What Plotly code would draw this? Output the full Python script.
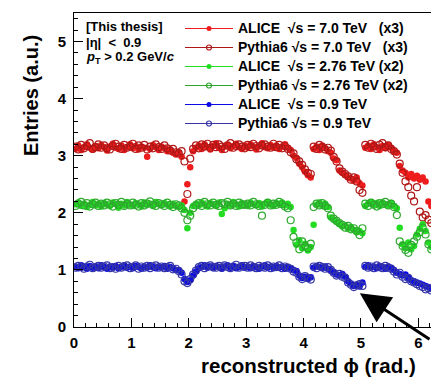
import numpy as np
import plotly.graph_objects as go

# bin centres of reconstructed phi (0.05 rad bins)
phi = np.round(np.arange(0.025, 6.23, 0.05), 3)

alice_7 = [3.12, 3.18, 3.10, 3.15, 3.20, 3.14, 3.11, 3.17, 3.13, 3.19,
           3.15, 3.09, 3.16, 3.21, 3.14, 3.12, 3.18, 3.10, 3.15, 3.20,
           3.13, 3.17, 3.11, 3.16, 3.14, 2.98, 3.12, 3.19, 3.15, 3.10,
           3.16, 3.13, 3.08, 3.11, 3.05, 3.02, 3.06, 2.98,
           2.20, 2.50, 2.80, 3.08,
           3.14, 3.18, 3.12, 3.20, 3.15, 3.11, 3.17, 3.22,
           3.14, 3.10, 3.16, 3.19, 3.13, 3.17, 3.21, 3.15, 3.12, 3.18,
           3.14, 3.20, 3.16, 3.11, 3.17, 3.22, 3.15, 3.13, 3.19, 3.14,
           3.18, 3.12, 3.16, 3.20, 3.14, 3.10,
           3.00, 2.96, 2.86, 2.80, 2.72, 2.66, 2.62,
           3.12, 3.16, 3.10, 3.18, 3.13, 3.08, 3.05, 2.95, 2.92,
           2.74, 2.70, 2.66, 2.62, 2.60, 2.56, 2.62, 2.52, 2.48,
           3.14, 3.18, 3.12, 3.20, 3.15, 3.10, 3.17, 3.13, 3.19, 3.14, 3.08, 3.05,
           2.82, 2.74, 2.70, 2.62, 2.68, 2.60, 2.65, 2.58, 2.62, 2.55, 2.20, 2.12]

pythia_7 = [3.16, 3.11, 3.19, 3.13, 3.17, 3.22, 3.12, 3.15, 3.20, 3.14,
            3.18, 3.13, 3.11, 3.17, 3.21, 3.16, 3.12, 3.19, 3.14, 3.16,
            3.21, 3.12, 3.18, 3.14, 3.19, 3.11, 3.16, 3.13, 3.20, 3.15,
            3.12, 3.18, 3.13, 3.09, 3.12, 3.06, 3.04, 3.08,
            2.90, 2.33, 2.95, 3.12,
            3.18, 3.13, 3.20, 3.16, 3.21, 3.14, 3.19, 3.15,
            3.20, 3.16, 3.12, 3.18, 3.22, 3.14, 3.17, 3.20, 3.16, 3.13,
            3.19, 3.15, 3.21, 3.17, 3.13, 3.18, 3.20, 3.16, 3.14, 3.21,
            3.15, 3.19, 3.13, 3.17, 3.12, 3.06,
            3.04, 2.94, 2.90, 2.84, 2.76, 2.70, 2.68,
            3.16, 3.12, 3.19, 3.15, 3.11, 3.14, 3.09, 2.98, 2.90,
            2.78, 2.72, 2.68, 2.64, 2.58, 2.62, 2.55, 2.40, 2.35,
            3.19, 3.14, 3.21, 3.16, 3.12, 3.19, 3.22, 3.15, 3.18, 3.12, 3.08, 3.02,
            2.86, 2.70, 2.55, 2.45, 2.30, 2.20, 2.45, 2.02, 1.92, 1.96, 1.88, 1.82]

alice_276 = [2.15, 2.18, 2.12, 2.16, 2.10, 2.14, 2.19, 2.13, 2.16, 2.11,
             2.17, 2.14, 2.12, 2.18, 2.15, 2.09, 2.16, 2.13, 2.19, 2.14,
             2.12, 2.17, 2.15, 2.11, 2.18, 2.14, 2.16, 2.12, 2.19, 2.15,
             2.13, 2.17, 2.14, 2.11, 2.16, 2.12, 2.10, 2.13,
             2.05, 1.73, 2.00, 2.12,
             2.16, 2.13, 2.18, 2.14, 2.11, 2.17, 2.15, 2.12,
             2.18, 1.98, 2.08, 2.16, 2.13, 2.19, 2.15, 2.11, 2.17, 2.14,
             2.12, 2.18, 2.15, 2.13, 2.17, 2.11, 2.16, 2.19, 2.14, 2.12,
             2.17, 2.15, 2.18, 2.13, 2.16, 2.10,
             1.70, 1.44, 1.52, 1.38, 1.46, 1.34, 1.40,
             1.79, 2.14, 2.18, 2.12, 2.16, 2.10,
             1.92, 1.88, 1.84, 1.80, 1.76, 1.78, 1.72, 1.75, 1.70, 1.66, 1.68, 1.64,
             2.12, 2.16, 2.19, 2.14, 2.17, 2.12, 2.18, 2.15, 2.13, 2.17, 2.12, 2.08,
             1.74, 1.45, 1.38, 1.48, 1.36, 1.42, 1.62, 1.72, 1.80, 1.68, 1.48, 1.40]

pythia_276 = [2.12, 2.16, 2.19, 2.13, 2.17, 2.11, 2.15, 2.18, 2.12, 2.16,
              2.13, 2.18, 2.15, 2.11, 2.17, 2.14, 2.19, 2.12, 2.16, 2.13,
              2.18, 2.14, 2.11, 2.17, 2.13, 2.16, 2.20, 2.14, 2.12, 2.17,
              2.15, 2.12, 2.18, 2.14, 2.10, 2.15, 2.13, 2.08,
              2.00, 1.87, 1.95, 2.08,
              2.13, 2.17, 2.12, 2.19, 2.15, 2.13, 2.18, 2.14,
              2.12, 2.17, 2.15, 2.19, 2.13, 2.16, 2.12, 2.18, 2.14, 2.14,
              2.16, 2.13, 2.19, 2.15, 2.12, 1.95, 2.14, 2.18, 2.13, 2.16,
              2.14, 2.19, 2.15, 2.11, 2.08, 1.87,
              1.58, 1.48, 1.36, 1.50, 1.42, 1.38, 1.46,
              2.10, 2.16, 2.13, 2.17, 2.12, 2.08,
              1.95, 1.90, 1.86, 1.82, 1.79, 1.74, 1.77, 1.71, 1.73, 1.68, 1.61, 1.73,
              2.16, 2.12, 2.18, 2.14, 2.11, 2.17, 2.15, 2.19, 2.13, 2.16, 2.10, 1.96,
              1.50, 1.42, 1.35, 1.30, 1.44, 1.50, 1.58, 1.66, 1.74, 1.62, 1.45, 1.36]

alice_09 = [1.06, 1.03, 1.08, 1.05, 1.02, 1.07, 1.04, 1.06, 1.03, 1.08,
            1.05, 1.02, 1.06, 1.04, 1.07, 1.03, 1.05, 1.08, 1.04, 1.06,
            1.03, 1.07, 1.05, 1.02, 1.06, 1.04, 1.08, 1.05, 1.03, 1.06,
            1.04, 1.07, 1.02, 1.05, 1.03, 1.00,
            1.00, 0.95, 0.84, 0.79, 0.82, 0.90, 0.97, 1.03,
            1.05, 1.08, 1.04, 1.06, 1.03, 1.07,
            1.05, 1.02, 1.06, 1.08, 1.04, 1.07, 1.03, 1.05, 1.08, 1.04,
            1.06, 1.03, 1.07, 1.05, 1.02, 1.06, 1.08, 1.04, 1.06, 1.03,
            1.07, 1.04, 1.06, 1.02, 1.05, 1.03, 1.00, 0.98,
            0.90, 0.86, 0.88, 0.84, 0.87,
            1.04, 1.07, 1.05, 1.03, 1.06, 1.02, 0.99, 0.96,
            0.92, 0.90, 0.93, 0.88,
            0.80, 0.76, 0.72, 0.74, 0.71, 0.78,
            1.05, 1.08, 1.04, 1.06, 1.03, 1.07, 1.05, 1.02, 1.06, 1.04, 1.00, 0.95,
            0.93, 0.90, 0.92, 0.86, 0.82, 0.80, 0.78, 0.76, 0.74, 0.72, 0.70, 0.68]

pythia_09 = [1.04, 1.07, 1.05, 1.02, 1.06, 1.09, 1.03, 1.05, 1.07, 1.04,
             1.06, 1.08, 1.03, 1.05, 1.02, 1.07, 1.04, 1.06, 1.08, 1.03,
             1.05, 1.08, 1.02, 1.06, 1.04, 1.07, 1.03, 1.06, 1.08, 1.04,
             1.06, 1.03, 1.05, 1.07, 1.01, 1.02,
             0.98, 0.92, 0.80, 0.77, 0.84, 0.92, 0.99, 1.05,
             1.07, 1.03, 1.06, 1.08, 1.05, 1.04,
             1.07, 1.04, 1.08, 1.05, 1.03, 1.06, 1.09, 1.04, 1.06, 1.07,
             1.04, 1.08, 1.05, 1.03, 1.07, 1.05, 1.04, 1.08, 1.03, 1.06,
             1.05, 1.08, 1.03, 1.06, 1.04, 1.02, 0.97, 0.95,
             0.88, 0.84, 0.89, 0.86, 0.83,
             1.06, 1.03, 1.07, 1.05, 1.02, 1.05, 1.00, 0.95,
             0.90, 0.93, 0.88, 0.86,
             0.78, 0.74, 0.70, 0.73, 0.75, 0.72,
             1.07, 1.04, 1.06, 1.03, 1.08, 1.05, 1.03, 1.07, 1.04, 1.02, 0.97, 0.92,
             0.95, 0.88, 0.84, 0.86, 0.80, 0.78, 0.75, 0.72, 0.70, 0.66, 0.68, 0.64]

series_names = ["ALICE  √s = 7.0 TeV   (x3)", "Pythia6 √s = 7.0 TeV   (x3)",
                "ALICE  √s = 2.76 TeV (x2)", "Pythia6 √s = 2.76 TeV (x2)",
                "ALICE  √s = 0.9 TeV", "Pythia6 √s = 0.9 TeV"]
series_vals = [alice_7, pythia_7, alice_276, pythia_276, alice_09, pythia_09]
colors = ["#ee1c1c", "#b01818", "#22dd22", "#2fa82f", "#0a0ae6", "#3535a8"]
filled = [True, False, True, False, True, False]

FONT = "Liberation Sans, Arial, sans-serif"

fig = go.Figure()
for name, vals, col, fl in zip(series_names, series_vals, colors, filled):
    if fl:
        mk = dict(symbol="circle", size=6.5, color=col, line=dict(width=0))
    else:
        mk = dict(symbol="circle-open", size=7, color=col, line=dict(width=1.2))
    fig.add_trace(go.Scatter(x=phi, y=vals, mode="markers", marker=mk,
                             showlegend=False, hoverinfo="skip"))

for name, col, fl in zip(series_names, colors, filled):
    mk = dict(symbol="circle" if fl else "circle-open", size=5, color=col,
              line=dict(width=1.2 if not fl else 0))
    fig.add_trace(go.Scatter(x=[None], y=[None], mode="lines+markers",
                             line=dict(color=col, width=1.2), marker=mk,
                             name='<span style="font-size:14px"><b>%s</b></span>' % name,
                             showlegend=True))

axis_common = dict(showline=True, linecolor="black", linewidth=1, ticks="inside",
                   tickcolor="black", ticklen=9, tickwidth=1, showgrid=False,
                   zeroline=False, tickfont=dict(family=FONT, size=15, color="black", weight="bold"))

fig.update_xaxes(range=[0, 6.22], dtick=1, tick0=0, mirror=True,
                 minor=dict(dtick=0.2, ticklen=4, ticks="inside", tickcolor="black", showgrid=False),
                 ticklabelstandoff=2, **axis_common)
fig.update_yaxes(range=[0, 5.5], dtick=1, tick0=0,
                 minor=dict(dtick=0.2, ticklen=4, ticks="inside", tickcolor="black", showgrid=False),
                 ticklabelstandoff=4, **axis_common)

fig.add_annotation(text="<b>Entries (a.u.)</b>", xref="paper", yref="paper",
                   x=(31 - 74) / 357, y=(327 - 96) / 314, xanchor="center", yanchor="middle",
                   textangle=-90, showarrow=False,
                   font=dict(family=FONT, size=20, color="black"))
fig.add_annotation(text="<b>reconstructed ϕ (rad.)</b>", xref="paper", yref="paper",
                   x=(199 - 74) / 357, y=-(365 - 327) / 314, xanchor="left", yanchor="middle",
                   showarrow=False, font=dict(family=FONT, size=20.5, color="black"))

for txt, ypx in [("<b>[This thesis]</b>", 27), ("<b>|η|  &lt;  0.9</b>", 43),
                 ("<b><i>p</i><sub>T</sub> &gt; 0.2 GeV/<i>c</i></b>", 58)]:
    fig.add_annotation(text=txt, xref="paper", yref="paper", x=(84 - 74) / 357,
                       y=(327 - ypx) / 314, xanchor="left", yanchor="middle",
                       showarrow=False, font=dict(family=FONT, size=13, color="black"))

fig.add_annotation(x=4.98, y=0.59, xref="x", yref="y", text="", showarrow=True,
                   ax=90, ay=47, arrowhead=2, arrowsize=2.0, arrowwidth=3,
                   arrowcolor="black")

fig.update_layout(width=431, height=377, margin=dict(l=74, r=0, t=13, b=50),
                  plot_bgcolor="white", paper_bgcolor="white",
                  font=dict(family=FONT, color="black"),
                  legend=dict(x=(180 - 74) / 357, y=(327 - 14) / 314, xanchor="left", yanchor="top",
                              bgcolor="rgba(0,0,0,0)", borderwidth=0,
                              font=dict(family=FONT, size=12, color="black"),
                              itemwidth=48, tracegroupgap=0))

fig.write_html("out.html")
